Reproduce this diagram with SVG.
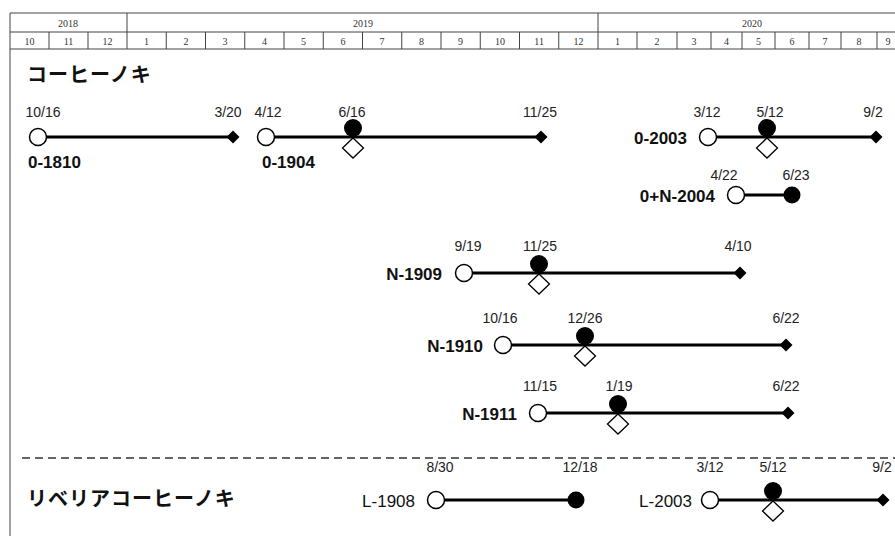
<svg xmlns="http://www.w3.org/2000/svg" width="895" height="536" viewBox="0 0 895 536">
<style>
.grid{stroke:#444;stroke-width:1;fill:none}
.yr{font-family:"Liberation Serif",serif;font-size:10px;fill:#333;text-anchor:middle}
.mo{font-family:"Liberation Serif",serif;font-size:10px;fill:#333;text-anchor:middle}
.title{font-family:"Noto Sans CJK JP",sans-serif;font-size:20px;font-weight:700;fill:#111;letter-spacing:1px}
.date{font-family:"Liberation Sans",Arial,sans-serif;font-size:14px;fill:#222;text-anchor:middle}
.lbl{font-family:"Liberation Sans",Arial,sans-serif;font-size:17px;font-weight:700;fill:#111}
.lblr{font-family:"Liberation Sans",Arial,sans-serif;font-size:17px;fill:#111}
.bar{stroke:#000;stroke-width:2.8;fill:none}
.open{fill:#fff;stroke:#000;stroke-width:1.5}
.full{fill:#000}
.odia{fill:#fff;stroke:#000;stroke-width:1.3}
.end{fill:#000}
</style>
<defs>
<polygon id="dia" points="0,-10 10.5,0 0,10 -10.5,0"/>
<polygon id="edia" points="0,-6.5 6.5,0 0,6.5 -6.5,0"/>
</defs>
<rect width="895" height="536" fill="#fff"/>

<g id="header">
<line class="grid" x1="10" y1="13" x2="895" y2="13" stroke-width="1.5"/>
<line class="grid" x1="10" y1="32" x2="895" y2="32"/>
<line class="grid" x1="10" y1="49" x2="895" y2="49"/>
<line class="grid" x1="10" y1="13" x2="10" y2="536" stroke-width="1.5"/>
<line class="grid" x1="127" y1="13" x2="127" y2="49"/>
<line class="grid" x1="598" y1="13" x2="598" y2="49"/>
<g class="grid">
<line x1="49" y1="32" x2="49" y2="49"/><line x1="88" y1="32" x2="88" y2="49"/>
<line x1="166.25" y1="32" x2="166.25" y2="49"/><line x1="205.5" y1="32" x2="205.5" y2="49"/>
<line x1="244.75" y1="32" x2="244.75" y2="49"/><line x1="284" y1="32" x2="284" y2="49"/>
<line x1="323.25" y1="32" x2="323.25" y2="49"/><line x1="362.5" y1="32" x2="362.5" y2="49"/>
<line x1="401.75" y1="32" x2="401.75" y2="49"/><line x1="441" y1="32" x2="441" y2="49"/>
<line x1="480.25" y1="32" x2="480.25" y2="49"/><line x1="519.5" y1="32" x2="519.5" y2="49"/>
<line x1="558.75" y1="32" x2="558.75" y2="49"/>
<line x1="637" y1="32" x2="637" y2="49"/><line x1="677" y1="32" x2="677" y2="49"/>
<line x1="711" y1="32" x2="711" y2="49"/><line x1="742" y1="32" x2="742" y2="49"/>
<line x1="775" y1="32" x2="775" y2="49"/><line x1="809" y1="32" x2="809" y2="49"/>
<line x1="841" y1="32" x2="841" y2="49"/><line x1="877" y1="32" x2="877" y2="49"/>
</g>
<text class="yr" x="68" y="27">2018</text>
<text class="yr" x="363" y="27">2019</text>
<text class="yr" x="752" y="27">2020</text>
<text class="mo" x="29.5" y="45">10</text>
<text class="mo" x="68.5" y="45">11</text>
<text class="mo" x="107.5" y="45">12</text>
<text class="mo" x="146.6" y="45">1</text>
<text class="mo" x="185.9" y="45">2</text>
<text class="mo" x="225.1" y="45">3</text>
<text class="mo" x="264.4" y="45">4</text>
<text class="mo" x="303.6" y="45">5</text>
<text class="mo" x="342.9" y="45">6</text>
<text class="mo" x="382.1" y="45">7</text>
<text class="mo" x="421.4" y="45">8</text>
<text class="mo" x="460.6" y="45">9</text>
<text class="mo" x="499.9" y="45">10</text>
<text class="mo" x="539.1" y="45">11</text>
<text class="mo" x="578.4" y="45">12</text>
<text class="mo" x="617.5" y="45">1</text>
<text class="mo" x="657" y="45">2</text>
<text class="mo" x="694" y="45">3</text>
<text class="mo" x="726.5" y="45">4</text>
<text class="mo" x="758.5" y="45">5</text>
<text class="mo" x="792" y="45">6</text>
<text class="mo" x="825" y="45">7</text>
<text class="mo" x="859" y="45">8</text>
<text class="mo" x="888" y="45">9</text>
</g>

<g id="title-coffea">
<text class="title" x="27" y="82">コーヒーノキ</text>
</g>
<g id="title-liberica">
<text class="title" x="27" y="506" letter-spacing="1.3">リベリアコーヒーノキ</text>
</g>
<g id="separator">
<line x1="22" y1="458" x2="895" y2="458" stroke="#333" stroke-width="1.3" stroke-dasharray="8,5"/>
</g>

<g id="connectors">
<line class="bar" x1="46" y1="137" x2="233" y2="137"/>
<line class="bar" x1="274" y1="137" x2="541" y2="137"/>
<line class="bar" x1="716" y1="137" x2="876" y2="137"/>
<line class="bar" x1="744" y1="195" x2="792" y2="195"/>
<line class="bar" x1="472" y1="273" x2="740" y2="273"/>
<line class="bar" x1="511" y1="345" x2="786" y2="345"/>
<line class="bar" x1="546" y1="413" x2="788" y2="413"/>
<line class="bar" x1="444" y1="500" x2="576" y2="500"/>
<line class="bar" x1="718" y1="500" x2="883" y2="500"/>
</g>

<g id="O-1810">
<circle class="open" cx="38" cy="137" r="8.5"/>
<use href="#edia" class="end" x="233" y="137"/>
<text class="date" x="43" y="117">10/16</text>
<text class="date" x="228" y="117">3/20</text>
<text class="lbl" x="28" y="168">0-1810</text>
</g>

<g id="O-1904">
<circle class="open" cx="266" cy="137" r="8.5"/>
<circle class="full" cx="353" cy="128" r="9"/>
<use href="#dia" class="odia" x="353" y="148"/>
<use href="#edia" class="end" x="541" y="137"/>
<text class="date" x="268" y="117">4/12</text>
<text class="date" x="352" y="117">6/16</text>
<text class="date" x="540" y="117">11/25</text>
<text class="lbl" x="262" y="168">0-1904</text>
</g>

<g id="O-2003">
<circle class="open" cx="708" cy="137" r="8.5"/>
<circle class="full" cx="767" cy="128" r="9"/>
<use href="#dia" class="odia" x="767" y="148"/>
<use href="#edia" class="end" x="876" y="137"/>
<text class="date" x="707" y="117">3/12</text>
<text class="date" x="770" y="117">5/12</text>
<text class="date" x="873" y="117">9/2</text>
<text class="lbl" x="687" y="143.5" text-anchor="end">0-2003</text>
</g>

<g id="ON-2004">
<circle class="open" cx="736" cy="195" r="8.5"/>
<circle class="full" cx="792" cy="195" r="8.5"/>
<text class="date" x="724" y="180">4/22</text>
<text class="date" x="796" y="180">6/23</text>
<text class="lbl" x="715" y="201.5" text-anchor="end">0+N-2004</text>
</g>

<g id="N-1909">
<circle class="open" cx="464" cy="273" r="8.5"/>
<circle class="full" cx="539" cy="264" r="9"/>
<use href="#dia" class="odia" x="539" y="284"/>
<use href="#edia" class="end" x="740" y="273"/>
<text class="date" x="468" y="251">9/19</text>
<text class="date" x="540" y="251">11/25</text>
<text class="date" x="738" y="251">4/10</text>
<text class="lbl" x="442" y="279.5" text-anchor="end">N-1909</text>
</g>

<g id="N-1910">
<circle class="open" cx="503" cy="345" r="8.5"/>
<circle class="full" cx="585" cy="336" r="9"/>
<use href="#dia" class="odia" x="585" y="356"/>
<use href="#edia" class="end" x="786" y="345"/>
<text class="date" x="500" y="323">10/16</text>
<text class="date" x="585" y="323">12/26</text>
<text class="date" x="786" y="323">6/22</text>
<text class="lbl" x="483" y="351.5" text-anchor="end">N-1910</text>
</g>

<g id="N-1911">
<circle class="open" cx="538" cy="413" r="8.5"/>
<circle class="full" cx="618" cy="404" r="9"/>
<use href="#dia" class="odia" x="618" y="424"/>
<use href="#edia" class="end" x="788" y="413"/>
<text class="date" x="540" y="391">11/15</text>
<text class="date" x="619" y="391">1/19</text>
<text class="date" x="786" y="391">6/22</text>
<text class="lbl" x="517" y="419.5" text-anchor="end">N-1911</text>
</g>

<g id="L-1908">
<circle class="open" cx="436" cy="500" r="8.5"/>
<circle class="full" cx="576" cy="500" r="8.5"/>
<text class="date" x="440" y="472">8/30</text>
<text class="date" x="580" y="472">12/18</text>
<text class="lblr" x="415" y="506.5" text-anchor="end">L-1908</text>
</g>

<g id="L-2003">
<circle class="open" cx="710" cy="500" r="8.5"/>
<circle class="full" cx="773" cy="491" r="9"/>
<use href="#dia" class="odia" x="773" y="511"/>
<use href="#edia" class="end" x="883" y="500"/>
<text class="date" x="710" y="472">3/12</text>
<text class="date" x="773" y="472">5/12</text>
<text class="date" x="882" y="472">9/2</text>
<text class="lblr" x="692" y="506.5" text-anchor="end">L-2003</text>
</g>
</svg>
